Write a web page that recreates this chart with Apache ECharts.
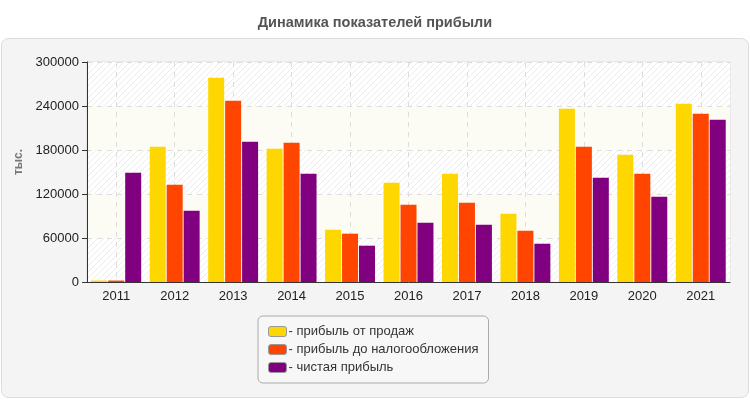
<!DOCTYPE html>
<html>
<head>
<meta charset="utf-8">
<script src="https://cdn.jsdelivr.net/npm/echarts@6/dist/echarts.min.js"></script>
<style>
  html, body { margin: 0; padding: 0; background: #fff; }
  #chart { width: 750px; height: 400px; }
</style>
</head>
<body>
<div id="chart"></div>
<script>
const years = ['2011', '2012', '2013', '2014', '2015', '2016', '2017', '2018', '2019', '2020', '2021']
const salesProfit = [2000, 184500, 278600, 181800, 71300, 135400, 147700, 93100, 236300, 173600, 243100]
const pretaxProfit = [2000, 132700, 247200, 190000, 65900, 105400, 108100, 70000, 184500, 147700, 229500]
const netProfit = [149000, 97200, 191300, 147700, 49500, 80900, 78100, 52200, 142200, 116300, 221300]
const seriesNames = ['- прибыль от продаж', '- прибыль до налогообложения', '- чистая прибыль']
const seriesColors = ['#FFD700', '#FF4500', '#800080']

// hatched fill for the plot bands
const makeHatch = () => {
  const c = document.createElement('canvas')
  c.width = 6
  c.height = 6
  const ctx = c.getContext('2d')
  ctx.fillStyle = '#ffffff'
  ctx.fillRect(0, 0, 6, 6)
  ctx.strokeStyle = '#ececec'
  ctx.lineWidth = 1
  ctx.beginPath()
  ctx.moveTo(0, 6)
  ctx.lineTo(6, 0)
  ctx.moveTo(-3, 3)
  ctx.lineTo(3, -3)
  ctx.moveTo(3, 9)
  ctx.lineTo(9, 3)
  ctx.stroke()
  return c
}

const chart = echarts.init(document.getElementById('chart'))
const font = 'Arial, "Liberation Sans", sans-serif'

const makeSeries = (i, values) => ({
  name: seriesNames[i],
  type: 'bar',
  data: values,
  barWidth: 16,
  barGap: '6%',
  itemStyle: { color: seriesColors[i] }
})

const option = {
  animation: false,
  textStyle: { fontFamily: font },
  title: {
    text: 'Динамика показателей прибыли',
    left: 'center',
    top: 10,
    textStyle: { fontSize: 14.5, fontWeight: 'bold', color: '#555', fontFamily: font }
  },
  graphic: [
    {
      type: 'rect',
      z: -10,
      shape: { x: 1.5, y: 38.5, width: 747, height: 359, r: 7 },
      style: { fill: '#f4f4f4', stroke: '#dcdcdc', lineWidth: 1 }
    }
  ],
  grid: {
    left: 87,
    right: 20,
    top: 62,
    bottom: 118,
    outerBoundsMode: 'none',
    containLabel: false,
    show: true,
    backgroundColor: '#fff',
    borderColor: '#dddddd',
    borderWidth: 1
  },
  legend: {
    orient: 'vertical',
    left: 258,
    top: 316,
    padding: [9, 10, 9, 10],
    itemGap: 5,
    itemWidth: 18,
    itemHeight: 10,
    icon: 'roundRect',
    backgroundColor: '#f7f7f7',
    borderColor: '#aaaaaa',
    borderWidth: 1,
    borderRadius: 5,
    itemStyle: { borderColor: '#999', borderWidth: 1 },
    textStyle: { fontSize: 13, color: '#333', fontFamily: font, padding: [0, 0, 0, -3] },
    data: seriesNames
  },
  xAxis: {
    type: 'category',
    data: years,
    axisLine: { lineStyle: { color: '#333', width: 1 } },
    axisTick: { alignWithLabel: true, length: 5, lineStyle: { color: '#333' } },
    axisLabel: { fontSize: 13, color: '#222', margin: 8 },
    splitLine: {
      show: true,
      alignWithLabel: true,
      lineStyle: { color: '#dddddd', type: [5, 5] }
    }
  },
  yAxis: {
    type: 'value',
    min: 0,
    max: 300000,
    interval: 60000,
    name: 'тыс.',
    nameLocation: 'middle',
    nameRotate: 90,
    nameGap: 60,
    nameTextStyle: { fontSize: 12, fontWeight: 'bold', color: '#777', fontFamily: font, padding: [0, 0, 0, 20] },
    axisLine: { show: true, lineStyle: { color: '#333', width: 1 } },
    axisTick: { show: true, length: 5, lineStyle: { color: '#333' } },
    axisLabel: { fontSize: 13, color: '#222', margin: 8, formatter: v => String(v) },
    splitLine: { lineStyle: { color: '#dddddd', type: [5, 5] } },
    splitArea: {
      show: true,
      areaStyle: {
        color: [{ image: makeHatch(), repeat: 'repeat' }, '#fcfcf5']
      }
    }
  },
  series: [
    makeSeries(0, salesProfit),
    makeSeries(1, pretaxProfit),
    makeSeries(2, netProfit)
  ]
}

chart.setOption(option)
</script>
</body>
</html>
